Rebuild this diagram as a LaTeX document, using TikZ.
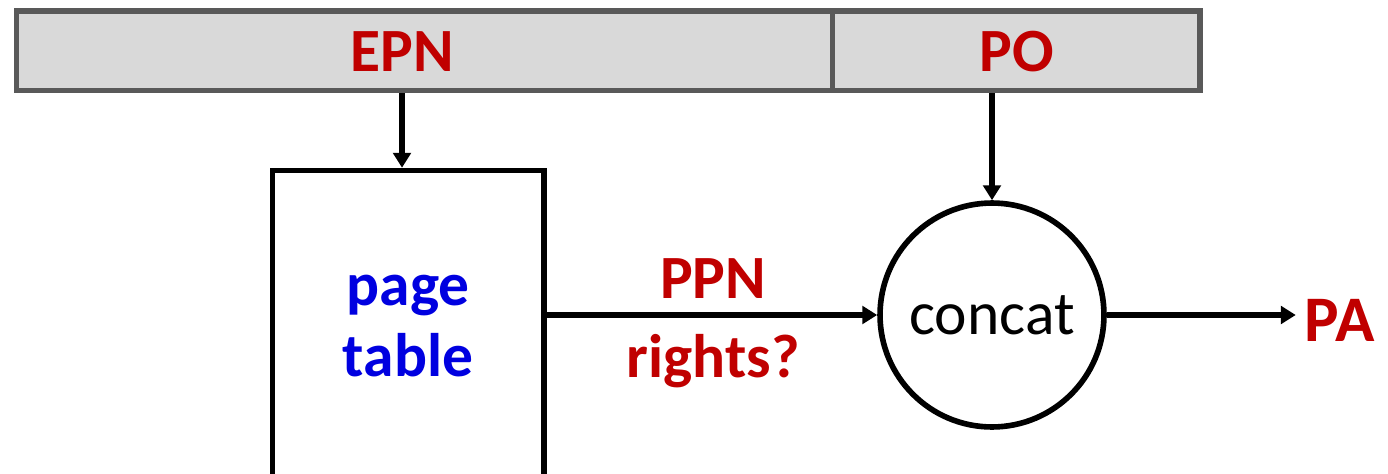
\documentclass[tikz,border=0pt]{standalone}
\usepackage{fontspec}
\setmainfont{Carlito}
\usetikzlibrary{arrows.meta,calc}
\definecolor{tred}{HTML}{C00000}
\definecolor{tblue}{RGB}{0,0,224}
\definecolor{barfill}{HTML}{D9D9D9}
\definecolor{barline}{HTML}{595959}
\tikzset{
  cell/.style={draw=barline, fill=barfill, line width=3.2pt, rectangle, inner sep=0pt, minimum height=1.586cm},
  redlbl/.style={text=tred, font=\fontsize{35}{45}\selectfont\bfseries, inner sep=0pt},
  bluelbl/.style={text=tblue, font=\fontsize{35}{40}\selectfont\bfseries, inner sep=0pt, align=center},
  arr/.style={line width=3.2pt, -{Triangle[length=8.5pt,width=10pt]}},
  ptbox/.style={draw=black, line width=3.2pt, rectangle, inner sep=0pt, minimum width=5.43cm, minimum height=6.99cm},
  concatnode/.style={draw=black, line width=3.2pt, circle, inner sep=0pt, minimum size=4.48cm, font=\fontsize{35}{42}\selectfont}
}
\begin{document}
\begin{tikzpicture}[x=0.02cm, y=-0.02cm]
\useasboundingbox (0,0) rectangle (1388,473);
\clip (0,0) rectangle (1388,473);
% top bar
\node[cell, minimum width=16.324cm] (epncell) at (424.4,50.85) {};
\node[cell, minimum width=7.356cm] (pocell) at (1016.4,50.85) {};
\node[redlbl] (epn) at (402,52) {EPN};
\node[redlbl] (po) at (1016.5,52) {PO};
% page table
\node[ptbox] (pt) at (408.25,345.25) {};
\node[bluelbl] (ptlbl) at (408,326) {page\\table};
% concat
\node[concatnode] (concat) at (992,315) {concat};
% PA
\node[redlbl, font=\fontsize{37}{43}\selectfont\bfseries, anchor=west, inner sep=2pt] (pa) at (1301,320.5) {PA};
% PPN rights
\node[redlbl, align=center] (ppn) at (713,323) {PPN\\rights?};
% arrows
\draw[arr] (epn.south |- epncell.south) -- (epn.south |- pt.north);
\draw[arr] (concat.north |- pocell.south) -- (concat.north);
\draw[arr] (concat.west -| pt.east) -- (concat.west);
\draw[arr] (concat.east) -- ([xshift=-3pt]concat.east -| pa.west);
\end{tikzpicture}
\end{document}
